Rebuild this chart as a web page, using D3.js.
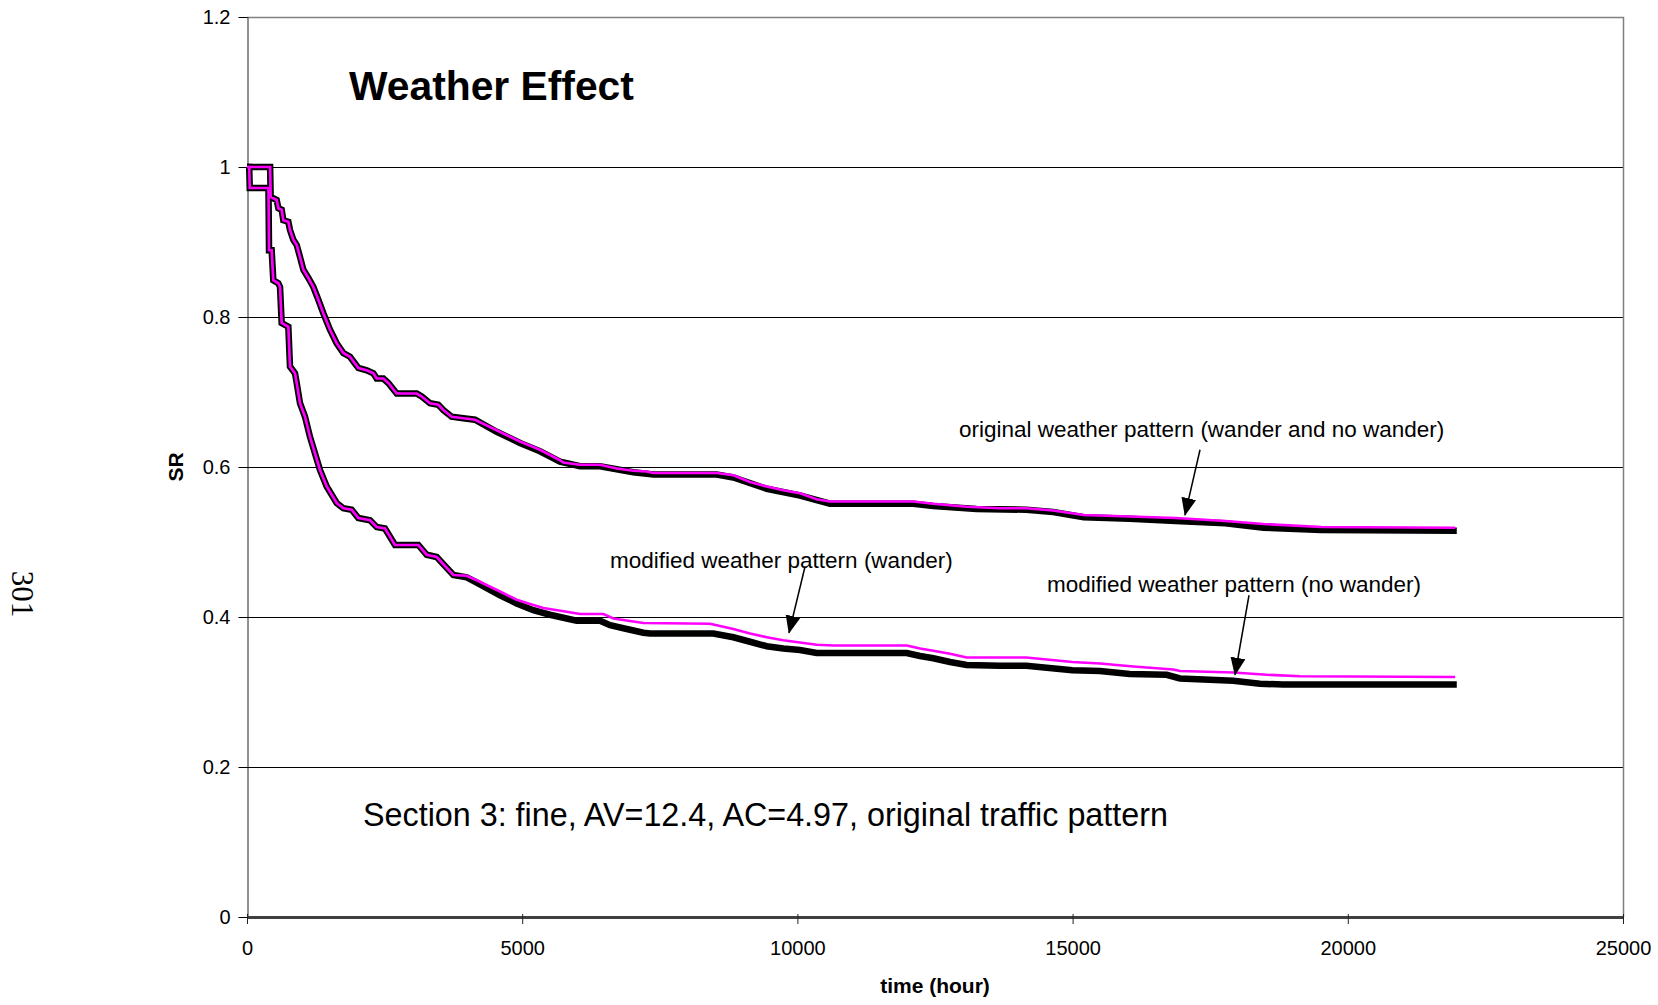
<!DOCTYPE html>
<html>
<head>
<meta charset="utf-8">
<script src="https://cdn.jsdelivr.net/npm/d3@7"></script>
<style>
  body { margin: 0; background: #fff; }
  svg { display: block; font-family: "Liberation Sans", Arial, sans-serif; }
</style>
</head>
<body>
<div id="chart"></div>
<script>
// Axis ticks
var xTicks = [0, 5000, 10000, 15000, 20000, 25000];
var yTicks = [0, 0.2, 0.4, 0.6, 0.8, 1, 1.2];
var yTickLabels = ["0", "0.2", "0.4", "0.6", "0.8", "1", "1.2"];

// Original weather pattern, no wander (magenta)
var origNoWanderT = [0, 420, 430, 539, 570, 630, 660, 751, 781, 842, 903, 963, 1024, 1115, 1206, 1296, 1387, 1508, 1630, 1750, 1871, 1962, 2023, 2175, 2296, 2356, 2477, 2567, 2720, 3083, 3174, 3325, 3476, 3567, 3719, 3930, 4143, 4537, 4960, 5323, 5687, 5747, 6050, 6414, 6717, 7019, 7262, 7382, 8534, 8836, 9139, 9442, 9744, 10047, 10350, 10592, 12106, 12469, 13075, 13681, 14159, 14646, 15202, 16036, 16870, 17774, 18471, 19514, 21950];
var origNoWanderV = [1, 1, 0.960, 0.956, 0.945, 0.943, 0.929, 0.927, 0.916, 0.903, 0.896, 0.880, 0.863, 0.852, 0.840, 0.823, 0.805, 0.783, 0.765, 0.752, 0.747, 0.738, 0.732, 0.729, 0.725, 0.718, 0.718, 0.712, 0.698, 0.698, 0.694, 0.685, 0.683, 0.676, 0.667, 0.665, 0.663, 0.649, 0.634, 0.623, 0.609, 0.606, 0.603, 0.603, 0.598, 0.595, 0.594, 0.592, 0.592, 0.589, 0.580, 0.574, 0.569, 0.565, 0.557, 0.554, 0.554, 0.551, 0.547, 0.545, 0.545, 0.542, 0.536, 0.534, 0.532, 0.528, 0.524, 0.520, 0.519];

// Original weather pattern, wander (black)
var origWanderT = [0, 420, 430, 539, 570, 630, 660, 751, 781, 842, 903, 963, 1024, 1115, 1206, 1296, 1387, 1508, 1630, 1750, 1871, 1962, 2023, 2175, 2296, 2356, 2477, 2567, 2720, 3083, 3174, 3325, 3476, 3567, 3719, 3930, 4143, 4537, 4960, 5323, 5687, 6050, 6414, 7019, 7382, 8534, 8836, 9442, 10047, 10592, 12106, 12469, 13254, 14159, 14646, 15202, 16036, 16870, 17774, 18471, 19514, 21980];
var origWanderV = [1, 1, 0.960, 0.956, 0.945, 0.943, 0.929, 0.927, 0.916, 0.903, 0.896, 0.880, 0.863, 0.852, 0.840, 0.823, 0.805, 0.783, 0.765, 0.752, 0.747, 0.738, 0.732, 0.729, 0.725, 0.718, 0.718, 0.712, 0.698, 0.698, 0.694, 0.685, 0.683, 0.676, 0.667, 0.665, 0.663, 0.647, 0.632, 0.621, 0.607, 0.601, 0.601, 0.593, 0.590, 0.590, 0.586, 0.571, 0.562, 0.551, 0.551, 0.548, 0.544, 0.543, 0.540, 0.533, 0.531, 0.528, 0.525, 0.519, 0.516, 0.515];

// Modified weather pattern, no wander (magenta)
var modNoWanderT = [0, 40, 50, 390, 400, 448, 478, 569, 600, 630, 751, 781, 872, 903, 963, 1054, 1145, 1236, 1326, 1448, 1630, 1750, 1902, 2023, 2235, 2356, 2507, 2689, 3113, 3265, 3447, 3749, 3992, 4173, 4597, 4900, 5202, 5384, 5808, 6050, 6474, 6656, 7019, 7201, 8412, 8594, 8836, 9139, 9442, 9744, 10047, 10350, 10653, 11986, 12228, 12469, 12773, 13075, 13681, 14159, 14995, 15498, 16103, 16830, 16951, 17920, 18526, 19132, 21950];
var modNoWanderV = [1, 1, 0.972, 0.972, 0.889, 0.889, 0.849, 0.845, 0.840, 0.792, 0.787, 0.734, 0.725, 0.712, 0.685, 0.667, 0.640, 0.618, 0.596, 0.574, 0.552, 0.545, 0.543, 0.532, 0.529, 0.520, 0.518, 0.496, 0.496, 0.483, 0.480, 0.456, 0.455, 0.449, 0.434, 0.423, 0.416, 0.412, 0.407, 0.404, 0.404, 0.398, 0.394, 0.392, 0.391, 0.388, 0.384, 0.378, 0.373, 0.369, 0.366, 0.363, 0.362, 0.362, 0.358, 0.355, 0.351, 0.346, 0.346, 0.346, 0.340, 0.338, 0.334, 0.330, 0.328, 0.326, 0.323, 0.321, 0.320];

// Modified weather pattern, wander (black)
var modWanderT = [0, 40, 50, 390, 400, 448, 478, 569, 600, 630, 751, 781, 872, 903, 963, 1054, 1145, 1236, 1326, 1448, 1630, 1750, 1902, 2023, 2235, 2356, 2507, 2689, 3113, 3265, 3447, 3749, 3992, 4173, 4597, 4900, 5202, 5505, 5808, 5989, 6414, 6596, 6899, 7201, 7322, 8473, 8836, 9139, 9442, 9744, 10047, 10350, 10653, 11986, 12228, 12469, 12773, 13075, 13681, 14159, 14995, 15498, 16036, 16709, 16951, 17920, 18405, 18829, 21980];
var modWanderV = [1, 1, 0.972, 0.972, 0.889, 0.889, 0.849, 0.845, 0.840, 0.792, 0.787, 0.734, 0.725, 0.712, 0.685, 0.667, 0.640, 0.618, 0.596, 0.574, 0.552, 0.545, 0.543, 0.532, 0.529, 0.520, 0.518, 0.496, 0.496, 0.483, 0.480, 0.456, 0.453, 0.446, 0.429, 0.418, 0.409, 0.403, 0.398, 0.395, 0.395, 0.389, 0.384, 0.379, 0.378, 0.378, 0.373, 0.367, 0.361, 0.358, 0.356, 0.352, 0.352, 0.352, 0.348, 0.345, 0.340, 0.336, 0.335, 0.335, 0.329, 0.328, 0.324, 0.323, 0.318, 0.315, 0.311, 0.310, 0.310];

// Annotation texts and arrows (data coordinates)
var notes = [
  { text: "original weather pattern (wander and no wander)", t: 12936, v: 0.640 },
  { text: "modified weather pattern (wander)", t: 6595, v: 0.465 },
  { text: "modified weather pattern (no wander)", t: 14535, v: 0.433 }
];
var arrows = [
  { t0: 17315, v0: 0.623, t1: 17042, v1: 0.536 },
  { t0: 10138, v0: 0.467, t1: 9848, v1: 0.379 },
  { t0: 18205, v0: 0.429, t1: 17951, v1: 0.323 }
];

var width = 1658, height = 1005;
var plotLeft = 247, plotRight = 1623, plotTop = 17, plotBottom = 917;

var svg = d3.select("#chart").append("svg")
    .attr("width", width)
    .attr("height", height);

var x = d3.scaleLinear().domain([0, 25000]).range([plotLeft, plotRight]);
var y = d3.scaleLinear().domain([0, 1.2]).range([plotBottom, plotTop]);

// gridlines
svg.append("g")
    .selectAll("line")
    .data(yTicks.slice(1, -1))
    .enter().append("line")
    .attr("x1", plotLeft).attr("x2", plotRight)
    .attr("y1", d => Math.round(y(d)) + 0.5).attr("y2", d => Math.round(y(d)) + 0.5)
    .attr("stroke", "#000")
    .attr("stroke-width", 1);

// top and right border
svg.append("path")
    .attr("d", `M${plotLeft},${plotTop + 0.5}H${plotRight + 0.5}V${plotBottom}`)
    .attr("fill", "none")
    .attr("stroke", "#808080")
    .attr("stroke-width", 1.5);

// y axis
var yAxis = svg.append("g")
    .attr("transform", `translate(${plotLeft + 0.5},0)`)
    .call(d3.axisLeft(y).tickValues(yTicks)
        .tickFormat((d, i) => yTickLabels[i])
        .tickSize(9).tickPadding(8).tickSizeOuter(0));
yAxis.select(".domain").attr("stroke", "#222");
yAxis.selectAll("text").attr("font-size", 20).attr("font-family", "Liberation Sans, Arial, sans-serif").attr("fill", "#000");

// x axis
var xAxis = svg.append("g")
    .attr("transform", `translate(0,${plotBottom})`)
    .call(d3.axisBottom(x).tickValues(xTicks)
        .tickFormat(d3.format("d"))
        .tickSize(7).tickPadding(17).tickSizeOuter(0));
xAxis.select(".domain").attr("stroke", "#404040").attr("stroke-width", 3);
xAxis.selectAll(".tick line").attr("y1", -3).attr("stroke", "#222");
xAxis.selectAll("text").attr("font-size", 20).attr("font-family", "Liberation Sans, Arial, sans-serif").attr("fill", "#000");

// series
var line = d3.line()
    .x(d => x(d[0]))
    .y(d => y(d[1]));

function drawSeries(ts, vs, color, w) {
    svg.append("path")
        .datum(d3.zip(ts, vs))
        .attr("d", line)
        .attr("fill", "none")
        .attr("stroke", color)
        .attr("stroke-width", w)
        .attr("stroke-linejoin", "miter");
}

drawSeries(origWanderT, origWanderV, "#000", 6.5);
drawSeries(modWanderT, modWanderV, "#000", 6.5);
drawSeries(origNoWanderT, origNoWanderV, "#ff00ff", 2.7);
drawSeries(modNoWanderT, modNoWanderV, "#ff00ff", 2.7);

// arrowheads
svg.append("defs").append("marker")
    .attr("id", "head")
    .attr("markerUnits", "userSpaceOnUse")
    .attr("viewBox", "0 -8 18 16")
    .attr("refX", 17).attr("refY", 0)
    .attr("markerWidth", 18).attr("markerHeight", 16)
    .attr("orient", "auto")
    .append("path")
    .attr("d", "M0,-7.5L18,0L0,7.5Z")
    .attr("fill", "#000");

svg.append("g")
    .selectAll("line")
    .data(arrows)
    .enter().append("line")
    .attr("x1", d => x(d.t0)).attr("y1", d => y(d.v0))
    .attr("x2", d => x(d.t1)).attr("y2", d => y(d.v1))
    .attr("stroke", "#000")
    .attr("stroke-width", 1.5)
    .attr("marker-end", "url(#head)");

svg.append("g")
    .selectAll("text")
    .data(notes)
    .enter().append("text")
    .attr("x", d => x(d.t))
    .attr("y", d => y(d.v))
    .attr("font-size", 22.5)
    .text(d => d.text);

// title and section note
svg.append("text")
    .attr("x", x(1853)).attr("y", y(1.089))
    .attr("font-size", 40.8)
    .attr("font-weight", "bold")
    .text("Weather Effect");

svg.append("text")
    .attr("x", x(2108)).attr("y", y(0.121))
    .attr("font-size", 32.3)
    .text("Section 3: fine, AV=12.4, AC=4.97, original traffic pattern");

// axis titles
svg.append("text")
    .attr("x", (plotLeft + plotRight) / 2).attr("y", 993)
    .attr("text-anchor", "middle")
    .attr("font-size", 21)
    .attr("font-weight", "bold")
    .text("time (hour)");

svg.append("text")
    .attr("transform", `translate(183,${(plotTop + plotBottom) / 2}) rotate(-90)`)
    .attr("text-anchor", "middle")
    .attr("font-size", 21)
    .attr("font-weight", "bold")
    .text("SR");

// page number
svg.append("text")
    .attr("transform", "translate(12,594) rotate(90)")
    .attr("text-anchor", "middle")
    .attr("font-size", 31)
    .attr("font-family", "Liberation Serif, Times New Roman, serif")
    .text("301");
</script>
</body>
</html>
